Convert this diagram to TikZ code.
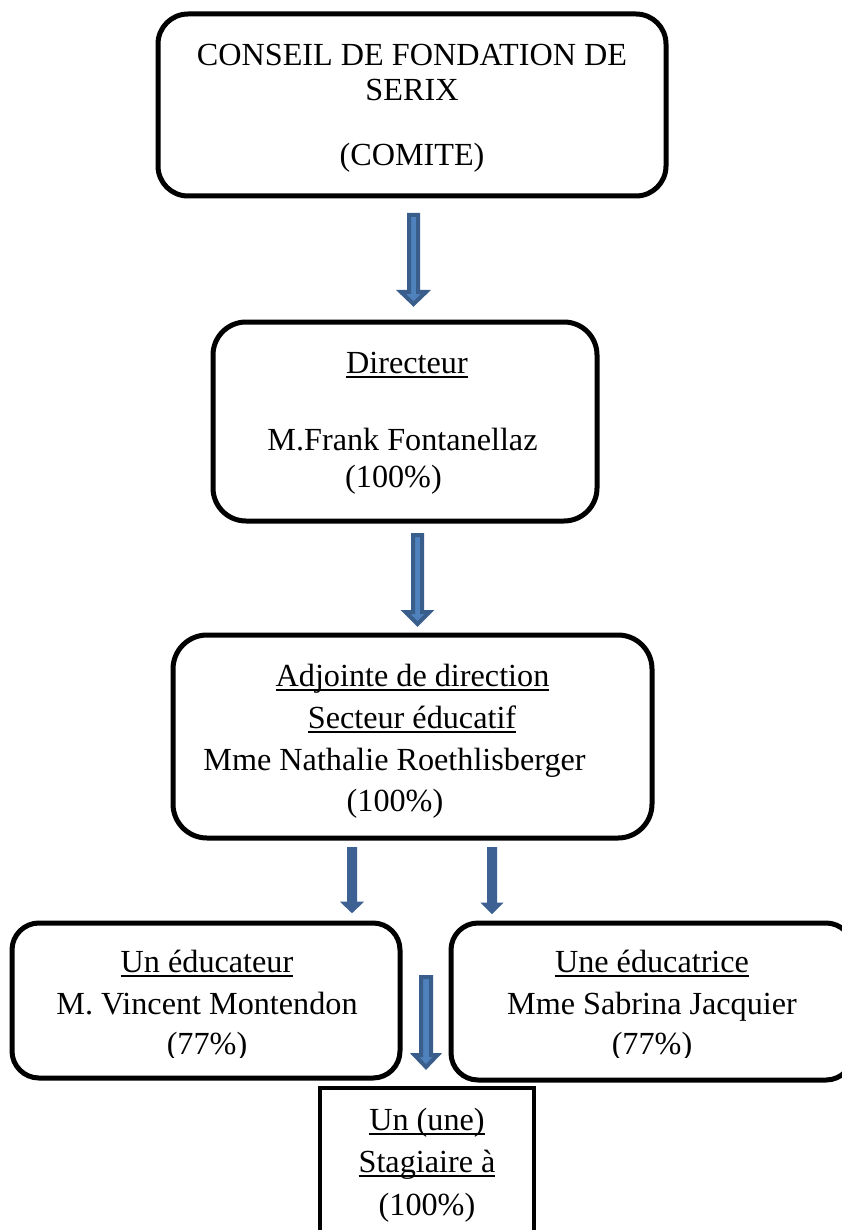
\documentclass[tikz,border=0pt]{standalone}
\usepackage{fontspec}
\setmainfont{Liberation Serif}
\usetikzlibrary{calc}
\definecolor{arrowdark}{HTML}{3A5E8C}
\definecolor{arrowlight}{HTML}{4F81BD}
\definecolor{arrowsolid}{HTML}{3C6192}
\newsavebox{\ulxbox}
\newcommand\ulx[1]{\sbox{\ulxbox}{#1}\rlap{\rule[-5pt]{\wd\ulxbox}{2pt}}\usebox{\ulxbox}}
\newcommand\blockarrow[6]{%
  \path[#1] ($(#2)+(-#4,0)$) -- ($(#3)+(-#4,-#6)$) -- ($(#3)+(-#5,-#6)$) -- (#3)
    -- ($(#3)+(#5,-#6)$) -- ($(#3)+(#4,-#6)$) -- ($(#2)+(#4,0)$) -- cycle;}
\begin{document}
\begin{tikzpicture}[x=1pt,y=-1pt,
  orgbox/.style={draw=black, line width=5pt, rounded corners=#1, inner sep=0pt},
  squarebox/.style={draw=black, line width=4.5pt, inner sep=0pt},
  txt/.style={inner sep=0pt, anchor=base, font=\fontsize{32.2}{37}\selectfont},
  stripearrow/.style={draw=arrowdark, fill=arrowlight, line width=4pt},
  solidarrow/.style={draw=arrowsolid, fill=arrowsolid, line width=1pt}]
\useasboundingbox (0,0) rectangle (842,1230);
\fill[white] (0,0) rectangle (842,1230);

% boxes
\node[orgbox=30pt, minimum width=508pt, minimum height=182pt] (b1) at (412,105) {};
\node[orgbox=33pt, minimum width=384pt, minimum height=199pt] (b2) at (405,421.5) {};
\node[orgbox=34pt, minimum width=479pt, minimum height=203pt] (b3) at (412.5,736.5) {};
\node[orgbox=27pt, minimum width=388pt, minimum height=155pt] (b4) at (206,1000.5) {};
\node[orgbox=27pt, minimum width=402pt, minimum height=157pt] (b5) at (652,1001.5) {};
\node[squarebox, minimum width=214pt, minimum height=200pt] (b6) at (427,1188) {};

% texts box 1
\node[txt] (b1a) at (412,66) {CONSEIL DE FONDATION DE};
\node[txt] (b1b) at (412,101) {SERIX};
\node[txt] (b1c) at (412,166) {(COMITE)};
% box 2
\node[txt] (b2a) at (407,373) {\ulx{Directeur}};
\node[txt] (b2b) at (402.5,450) {M.Frank Fontanellaz};
\node[txt] (b2c) at (393.5,487) {(100\%)};
% box 3
\node[txt] (b3a) at (412.5,686) {\ulx{Adjointe de direction}};
\node[txt] (b3b) at (412,728) {\ulx{Secteur éducatif}};
\node[txt] (b3c) at (394.5,770) {Mme Nathalie Roethlisberger};
\node[txt] (b3d) at (395,811) {(100\%)};
% box 4
\node[txt] (b4a) at (207,972) {\ulx{Un éducateur}};
\node[txt] (b4b) at (207,1014) {M. Vincent Montendon};
% box 5
\node[txt] (b5a) at (652,972) {\ulx{Une éducatrice}};
\node[txt] (b5b) at (652,1014) {Mme Sabrina Jacquier};
\begin{scope}
  \clip (0,900) rectangle (842,1057);
  \node[txt] (b4c) at (207,1054) {(77\%)};
  \node[txt] (b5c) at (652,1054) {(77\%)};
\end{scope}
% box 6
\node[txt] (b6a) at (427,1130) {\ulx{Un (une)}};
\node[txt] (b6b) at (427,1172) {\ulx{Stagiaire à}};
\node[txt] (b6c) at (427,1215) {(100\%)};

% arrows
\coordinate (a1top) at (413.5,215);
\coordinate (a1tip) at (413.5,304);
\coordinate (a2top) at (417.5,535);
\coordinate (a2tip) at (417.5,624);
\coordinate (a3top) at (352,847.5);
\coordinate (a3tip) at (352,912.5);
\coordinate (a4top) at (492,847.5);
\coordinate (a4tip) at (492,913.5);
\coordinate (a5top) at (426,977);
\coordinate (a5tip) at (426,1067);
\blockarrow{stripearrow}{a1top}{a1tip}{4.5}{12.5}{12}
\blockarrow{stripearrow}{a2top}{a2tip}{4.5}{12}{12}
\blockarrow{solidarrow}{a3top}{a3tip}{4.5}{11}{10.5}
\blockarrow{solidarrow}{a4top}{a4tip}{4.5}{10.5}{10.5}
\blockarrow{stripearrow}{a5top}{a5tip}{5}{11.5}{12}
\end{tikzpicture}
\end{document}
